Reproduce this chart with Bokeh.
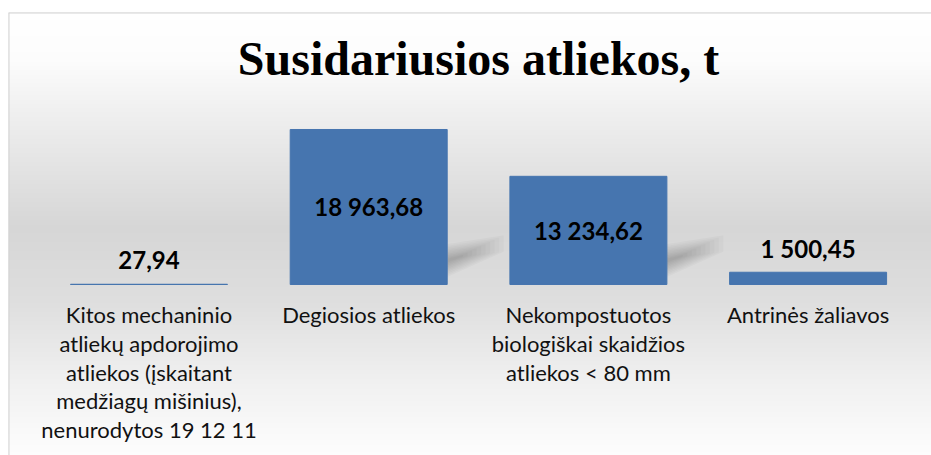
import numpy as np
from bokeh.plotting import figure
from bokeh.models import ColumnDataSource, Range1d, Span
from bokeh.core.properties import value
from bokeh.embed import file_html
from bokeh.resources import INLINE

# ---------------- data ----------------
chart_title = "Susidariusios atliekos, t"
categories = [
    "Kitos mechaninio atliekų apdorojimo atliekos (įskaitant medžiagų mišinius), nenurodytos 19 12 11",
    "Degiosios atliekos",
    "Nekompostuotos biologiškai skaidžios atliekos < 80 mm",
    "Antrinės žaliavos",
]
tick_labels = [
    "Kitos mechaninio\natliekų apdorojimo\natliekos (įskaitant\nmedžiagų mišinius),\nnenurodytos 19 12 11",
    "Degiosios atliekos",
    "Nekompostuotos\nbiologiškai skaidžios\natliekos < 80 mm",
    "Antrinės žaliavos",
]
values = [27.94, 18963.68, 13234.62, 1500.45]

# ---------------- layout ----------------
W, H = 931, 455
LEFT, TOP = 8, 12
n = len(categories)
X0, X1 = -0.1395, n + 0.0617
Y0, Y1 = -20920.0, 33276.0
PX_X = (X1 - X0) / (W - LEFT)    # data units per pixel (x)
PX_Y = (Y1 - Y0) / (H - TOP)     # data units per pixel (y)
BAR_W = 0.7146

p = figure(width=W, height=H, output_backend="svg", toolbar_location=None,
           x_range=Range1d(X0, X1), y_range=Range1d(Y0, Y1),
           x_axis_location=None, y_axis_location=None,
           min_border_left=LEFT, min_border_right=0, min_border_top=TOP, min_border_bottom=0)
p.grid.visible = False
p.border_fill_color = "white"
p.background_fill_color = "#e6e6e6"
p.outline_line_color = None

# background gradient (white -> grey -> white), stops as pixel rows from frame top
rows = H - TOP
stop_px = [0, 48, 98, 215, 288, 368, 435, 443]
stop_g = [255, 252, 240, 214, 222, 240, 252, 253]
img = np.zeros((rows, 2), dtype=np.uint32)
view = img.view(dtype=np.uint8).reshape((rows, 2, 4))
for r in range(rows):
    d = rows - (r + 0.5)  # pixels from top
    g = int(round(np.interp(d, stop_px, stop_g)))
    view[r, :, 0] = g
    view[r, :, 1] = g
    view[r, :, 2] = g
    view[r, :, 3] = 255
p.image_rgba(image=[img], x=X0, y=Y0, dw=X1 - X0, dh=Y1 - Y0)

# chart border (left and top visible)
p.add_layout(Span(location=X0, dimension="height", line_color="#d3d3d3", line_width=2))
p.add_layout(Span(location=Y1, dimension="width", line_color="#d3d3d3", line_width=2))

xs = [i + 0.5 for i in range(n)]
vmax = max(values)
big = [v > 0.25 * vmax for v in values]

# soft perspective shadows to the right of the tall bars
sh_x, sh_y = [], []
for x, b in zip(xs, big):
    if not b:
        continue
    xr = x + BAR_W / 2
    for k in range(10):
        h = 2 + 1.6 * k
        L = 16 + 4.5 * k
        yc0, yc1 = 24, 24 + 0.3 * L
        px = [0, L, L, 0]
        py = [yc0 - h, yc1 - 0.5 * h, yc1 + 0.5 * h, yc0 + h]
        sh_x.append([xr + u * PX_X for u in px])
        sh_y.append([v * PX_Y for v in py])
p.patches(sh_x, sh_y, fill_color="black", fill_alpha=0.022, line_color=None)

# bars
src = ColumnDataSource(dict(x=xs, top=values, cat=categories))
p.vbar(x="x", top="top", bottom=0, width=BAR_W, source=src,
       fill_color="#4675af", line_color="#4675af", line_width=1)

# value labels
def fmt(v):
    return f"{v:,.2f}".replace(",", " ").replace(".", ",")

lsrc = ColumnDataSource(dict(
    x=xs,
    y=[v / 2 if b else v for v, b in zip(values, big)],
    lbl=[fmt(v) for v in values],
    base=["middle" if b else "alphabetic" for b in big],
    off=[0 if b else -24 for b in big],
))
p.text(x="x", y="y", text="lbl", text_baseline="base", y_offset="off", source=lsrc,
       text_align="center", text_font=value("Lato"), text_font_style="bold",
       text_font_size="24px", text_color="black")

# category labels
csrc = ColumnDataSource(dict(x=xs, y=[0] * n, t=tick_labels))
p.text(x="x", y="y", text="t", source=csrc, y_offset=17,
       text_align="center", text_baseline="top", text_font=value("Lato"),
       text_font_size="22px", text_line_height=1.06, text_color="#111111")

# title
p.text(x=[n / 2], y=[Y1], text=[chart_title], y_offset=46,
       text_align="center", text_baseline="alphabetic",
       text_font=value("Liberation Serif"), text_font_style="bold",
       text_font_size="48px", text_color="black")

open("out.html", "w").write(file_html(p, INLINE))
